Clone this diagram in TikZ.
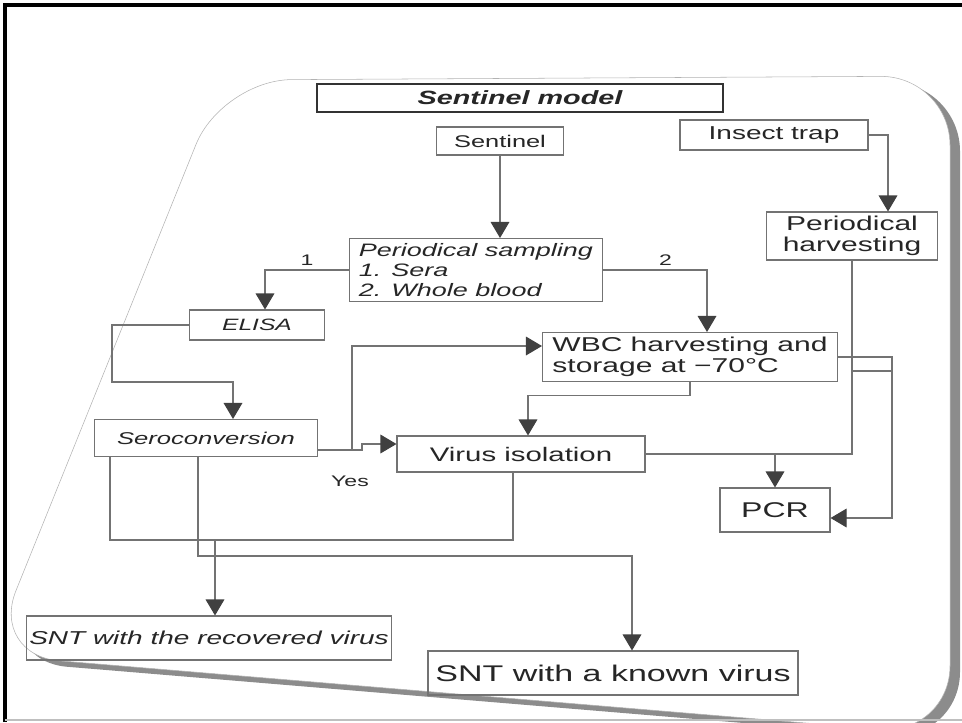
\documentclass[tikz,border=0pt]{standalone}
\usepackage{fontspec}
\setmainfont{Liberation Sans}[FakeStretch=1.5]
\usetikzlibrary{arrows.meta,positioning,calc}

\begin{document}
\begin{tikzpicture}[
    x=0.75pt, y=-0.75pt,
    box/.style={draw=black!55, line width=0.8pt, inner sep=2pt, text=black!85},
    boxsize/.style 2 args={minimum width=#1*0.75pt, minimum height=#2*0.75pt},
    link/.style={draw=black!55, line width=0.8pt},
    arrow/.style={link, -{Triangle[width=14pt, length=12pt, color=black!75]}},
    tag/.style={text=black!85, font=\fontsize{11.5}{14}\selectfont}
  ]
  \useasboundingbox (0,0) rectangle (962,722);
  \begin{scope}
    \clip (0,0) rectangle (962,722);
    \fill[black!45, rounded corners=52pt]
      (230,86) -- (960,82) -- (960,741) -- (-2,661) -- cycle;
    \filldraw[fill=white, draw=black!30, line width=0.4pt, rounded corners=52pt]
      (222,80) -- (950,76) -- (950,735) -- (-10,655) -- cycle;
  \end{scope}
  \draw[line width=3pt] (5,722) -- (5,5) -- (962,5);
  \draw[black!25, line width=0.8pt] (5,720) -- (962,720);

  \node[box, boxsize={406}{28}, draw=black!80, line width=2.2pt,
    font=\fontsize{14.4}{17}\selectfont\bfseries\itshape] (title) at (520,98)
    {Sentinel model};
  \node[box, boxsize={127}{28}, font=\fontsize{12.7}{15}\selectfont]
    (sentinel) at (500,141) {Sentinel};
  \node[box, boxsize={188}{30}, font=\fontsize{14}{16}\selectfont]
    (insect) at (774,135) {Insect trap};
  \node[box, boxsize={171}{48}, align=center, font=\fontsize{15}{15.5}\selectfont]
    (harvest) at (852,236) {Periodical\\harvesting};
  \node[box, boxsize={253}{63}, align=left, font=\fontsize{13.5}{15}\selectfont\itshape]
    (sampling) at (476,270) {Periodical sampling\\1. Sera\\2. Whole blood};
  \node[box, boxsize={135}{30}, font=\fontsize{12.3}{15}\selectfont\itshape]
    (elisa) at (257,325) {ELISA};
  \node[box, boxsize={295}{49}, align=left, font=\fontsize{15}{16}\selectfont]
    (wbc) at (690,357) {WBC harvesting and\\storage at −70°C};
  \node[box, boxsize={223}{37}, font=\fontsize{12.8}{15}\selectfont\itshape]
    (sero) at (206,438) {Seroconversion};
  \node[box, boxsize={248}{36}, font=\fontsize{14.7}{17}\selectfont]
    (virus) at (521,454) {Virus isolation};
  \node[box, boxsize={110}{44}, font=\fontsize{16}{18}\selectfont]
    (pcr) at (775,510) {PCR};
  \node[box, boxsize={362}{44}, font=\fontsize{14}{16}\selectfont\itshape]
    (sntrec) at (209,638) {SNT with the recovered virus};
  \node[box, boxsize={370}{44}, font=\fontsize{17}{19}\selectfont]
    (sntknown) at (613,673) {SNT with a known virus};
  \node[tag] (yeslabel) at (350,481) {Yes};

  \coordinate (eturn) at (112,382);
  \coordinate (yes) at (352,450);
  \coordinate (rbus) at (892,518);
  \coordinate (hlink) at (892,371);
  \coordinate (recbus) at (215,540);
  \coordinate (knownbus) at (632,556);

  \draw[arrow] (sentinel.south) -- (sentinel.south |- sampling.north);
  \draw[arrow] (insect.east) -| ($(harvest.north)+(36,0)$);
  \draw[arrow] (sampling.west) -| node[tag, above, pos=0.25] (one) {1}
    ($(elisa.north)+(8,0)$);
  \draw[arrow] (sampling.east) -| node[tag, above, pos=0.3] (two) {2}
    ($(wbc.north)+(17,0)$);
  \draw[arrow] (elisa.west) -| (eturn) -| ($(sero.north)+(27,0)$);
  \draw[arrow] (sero.east |- yes) -- (yes) |- ($(wbc.west)+(0,-11)$);
  \draw[arrow] (yes) -- ++(10,0) |- ($(virus.west)+(0,-10)$);
  \draw[arrow] (wbc.south) -- ++(0,13) -| ($(virus.north)+(7,0)$);
  \draw[arrow] (wbc.east) -| (rbus) -- (pcr.east |- rbus);
  \draw[link] (harvest.south |- hlink) -- (hlink);
  \draw[link] (virus.east) -| (harvest.south);
  \draw[arrow] (pcr.north |- virus.east) -- (pcr.north);
  \draw[link] ($(virus.south)+(-8,0)$) |- (recbus);
  \draw[link] ($(sero.south)+(-96,0)$) |- (recbus);
  \draw[arrow] (recbus) -- (recbus |- sntrec.north);
  \draw[arrow] ($(sero.south)+(-8,0)$) |- (knownbus) -- (knownbus |- sntknown.north);
\end{tikzpicture}
\end{document}
